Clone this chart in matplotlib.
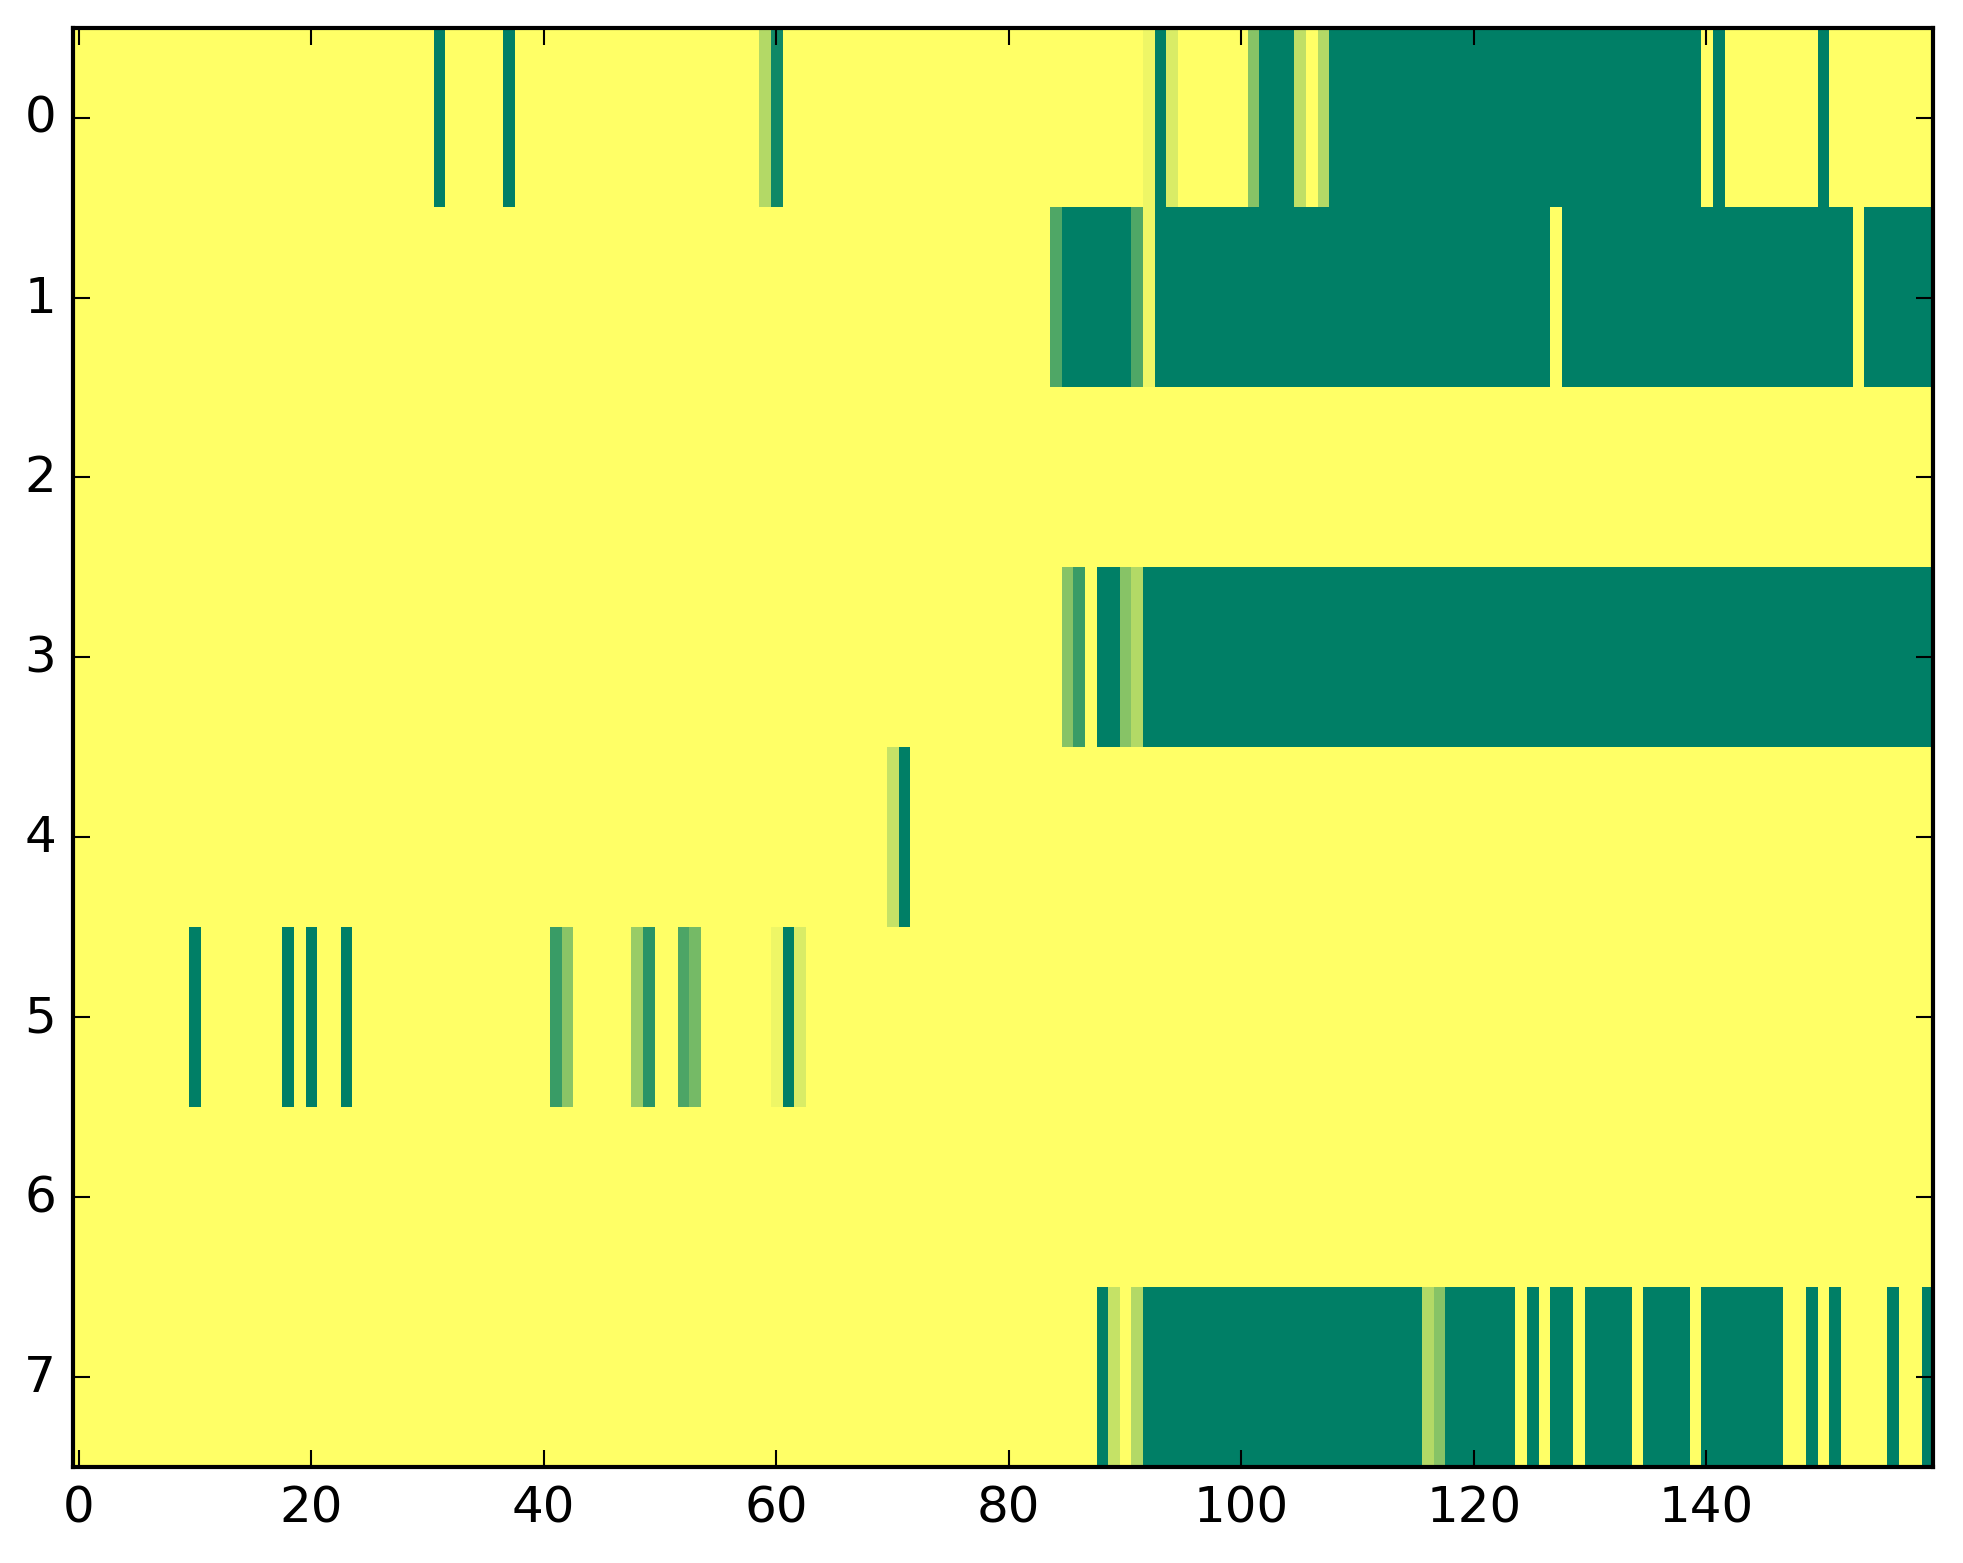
import numpy as np
import matplotlib
matplotlib.use("Agg")
import matplotlib.pyplot as plt

plt.style.use("classic")

n_cols = 160
row_labels = [0, 1, 2, 3, 4, 5, 6, 7]
x_ticks = [0, 20, 40, 60, 80, 100, 120, 140]

# Non-zero runs per row: (first column, last column, value)
row0 = [(31, 31, 1.0), (37, 37, 1.0), (59, 59, 0.30), (60, 60, 0.93),
        (92, 92, 0.07), (93, 93, 1.0), (94, 94, 0.15), (101, 101, 0.47),
        (102, 104, 1.0), (105, 105, 0.25), (107, 107, 0.30), (108, 139, 1.0),
        (141, 141, 1.0), (150, 150, 1.0)]
row1 = [(84, 84, 0.69), (85, 90, 1.0), (91, 91, 0.69), (92, 92, 0.07),
        (93, 126, 1.0), (128, 152, 1.0), (154, 159, 1.0)]
row2 = []
row3 = [(85, 85, 0.47), (86, 86, 0.77), (88, 89, 1.0), (90, 90, 0.47),
        (91, 91, 0.30), (92, 159, 1.0)]
row4 = [(70, 70, 0.23), (71, 71, 1.0)]
row5 = [(10, 10, 1.0), (18, 18, 1.0), (20, 20, 1.0), (23, 23, 1.0),
        (41, 41, 0.77), (42, 42, 0.46), (48, 48, 0.40), (49, 49, 0.835),
        (52, 52, 0.70), (53, 53, 0.54), (60, 60, 0.07), (61, 61, 1.0),
        (62, 62, 0.15)]
row6 = []
row7 = [(88, 88, 1.0), (89, 89, 0.23), (91, 91, 0.30), (92, 115, 1.0),
        (116, 116, 0.30), (117, 117, 0.47), (118, 123, 1.0), (125, 125, 1.0),
        (127, 128, 1.0), (130, 133, 1.0), (135, 138, 1.0), (140, 146, 1.0),
        (149, 149, 1.0), (151, 151, 1.0), (156, 156, 1.0), (159, 159, 1.0)]

rows = [row0, row1, row2, row3, row4, row5, row6, row7]
data = np.zeros((len(rows), n_cols))
for r, runs in enumerate(rows):
    for a, b, v in runs:
        data[r, a:b + 1] = v

fig = plt.figure(figsize=(1963 / 300, 1564 / 300), dpi=300, facecolor="white")
ax = fig.add_axes([72.9 / 1963, 1 - 1468 / 1564, (1933 - 72.9) / 1963, (1468 - 28.7) / 1564])
ax.imshow(data, cmap="summer_r", aspect="auto", interpolation="nearest",
          vmin=0, vmax=1)
ax.set_xticks(x_ticks)
ax.set_yticks(row_labels)
ax.set_xlim(-0.5, n_cols - 0.5)
ax.set_ylim(len(rows) - 0.5, -0.5)
ax.tick_params(labelsize=12)
fig.savefig("out.png", dpi=300, facecolor="white")
